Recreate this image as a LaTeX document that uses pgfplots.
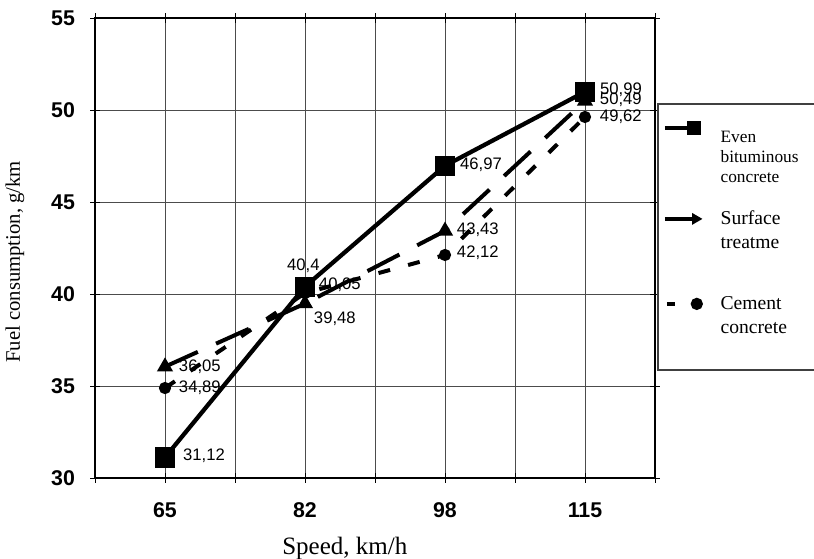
\documentclass[border=0pt]{standalone}
\usepackage{fontspec}
\setmainfont{Liberation Serif}
\newfontfamily\arial{Liberation Sans}
\usepackage{pgfplots}
\pgfplotsset{compat=1.18}

\begin{document}
\begin{tikzpicture}
\useasboundingbox (-71.25pt,-60.75pt) rectangle (539.25pt,358.5pt);
\begin{axis}[
  at={(0,0)}, anchor=south west,
  scale only axis, width=420pt, height=345pt,
  xmin=-0.5, xmax=3.5, ymin=30, ymax=55,
  xtick={0,1,2,3}, xticklabels={65,82,98,115},
  minor xtick={-0.5,0.5,1.5,2.5,3.5},
  ytick={30,35,...,55},
  grid=both,
  major grid style={black!70, line width=0.7pt},
  minor grid style={black!70, line width=0.7pt},
  axis line style={black, line width=0.9pt},
  tick align=center, major tick length=7pt, minor tick length=7pt,
  tick style={black, line width=0.7pt},
  ticklabel style={font=\arial\bfseries\fontsize{16}{18}\selectfont},
  xticklabel style={yshift=-11.5pt},
  yticklabel style={xshift=-8pt},
  /pgf/number format/assume math mode=true,
  /pgf/number format/.cd, fixed, precision=2, use comma, /pgfplots/.cd,
  xlabel={Speed, km/h},
  xlabel style={at={(axis description cs:0.446,-0.167)}, anchor=base,
    font=\fontsize{18.75}{22}\selectfont},
  ylabel={Fuel consumption, g/km},
  ylabel style={at={(axis description cs:-0.134,0.47)}, anchor=base,
    font=\fontsize{15.5}{18}\selectfont},
  legend style={at={(1.0036,0.815)}, anchor=north west,
    draw=black!75, line width=1.2pt, fill=white,
    inner xsep=3.75pt, inner ysep=4pt, column sep=13.25pt, row sep=0pt,
    cells={anchor=base west},
    nodes={anchor=base west, inner sep=0pt, text width=80pt, align=left}},
  point meta=y,
  visualization depends on={value \thisrow{dx} \as \dx},
  visualization depends on={value \thisrow{dy} \as \dy},
  nodes near coords,
  every node near coord/.append style={anchor=west, inner sep=0pt,
    xshift=\dx pt, yshift=\dy pt, text=black,
    font=\arial\fontsize{12.5}{14}\selectfont},
]
% Even bituminous concrete
\addplot[black, line width=3.2pt, mark=square*, mark size=6pt,
  mark options={solid}, forget plot] table[x=x, y=y] {
x y dx dy
0 31.12 12 1.5
1 40.4 -15 15.75
2 46.97 9.75 0.75
3 50.99 9.75 1.5
};
% Surface treatment
\addplot[black, line width=3pt, dash pattern=on 27pt off 15pt,
  mark=triangle*, mark size=4pt, mark options={solid}, forget plot]
  table[x=x, y=y] {
x y dx dy
0 36.05 9 0
1 39.48 5.25 -11.25
2 43.43 7.5 0.75
3 50.49 9.75 0.75
};
% Cement concrete
\addplot[black, line width=3pt, dash pattern=on 9pt off 14pt,
  mark=*, mark size=3pt, mark options={solid}, forget plot]
  table[x=x, y=y] {
x y dx dy
0 34.89 9 0
1 40.05 9 6
2 42.12 7.5 1.5
3 49.62 9.75 0
};

\addlegendimage{legend image code/.code={
  \path (0pt,0pt) (28pt,0pt);
  \draw[black, line width=3pt, yshift=11.25pt] (0pt,0pt) -- (22pt,0pt);
  \draw[black, yshift=11.25pt, mark=square*, mark size=4.5pt]
    plot coordinates {(22pt,0pt)};
}}
\addlegendentry[font=\fontsize{13}{15}\selectfont,
  text height=25.25pt, text depth=47.5pt]{Even\\bituminous\\concrete}
\addlegendimage{legend image code/.code={
  \path (0pt,0pt) (28pt,0pt);
  \draw[black, line width=3pt, yshift=4.5pt] (0pt,0pt) -- (22pt,0pt);
  \draw[black, yshift=4.5pt, mark=triangle*, mark size=4pt, mark options={rotate=-90}]
    plot coordinates {(23pt,0pt)};
}}
\addlegendentry[font=\fontsize{14.7}{18}\selectfont,
  text height=14pt, text depth=49.75pt]{Surface\\treatme}
\addlegendimage{legend image code/.code={
  \path (0pt,0pt) (28pt,0pt);
  \draw[black, line width=3pt, yshift=4.5pt] (1.5pt,0pt) -- (8pt,0pt);
  \draw[black, yshift=4.5pt, mark=*, mark size=4pt]
    plot coordinates {(24pt,0pt)};
}}
\addlegendentry[font=\fontsize{14.7}{18}\selectfont,
  text height=14pt, text depth=41pt]{Cement\\concrete}
\end{axis}
\end{tikzpicture}
\end{document}
